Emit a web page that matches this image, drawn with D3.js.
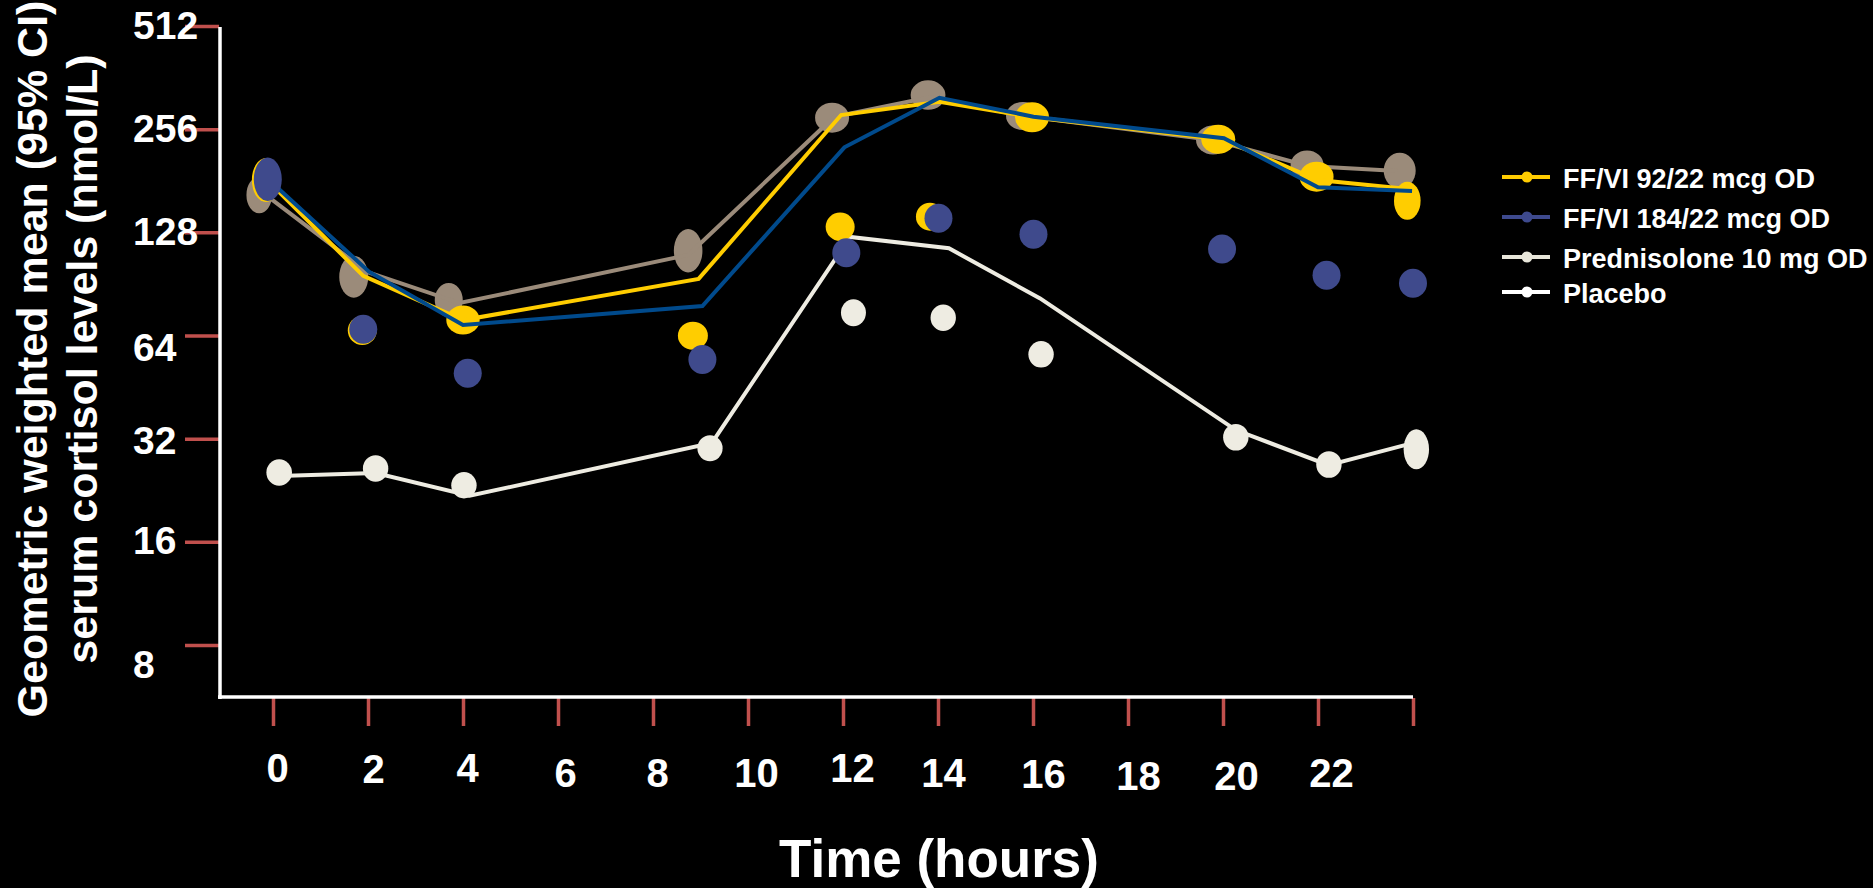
<!DOCTYPE html>
<html>
<head>
<meta charset="utf-8">
<script src="https://cdn.jsdelivr.net/npm/d3@7"></script>
<style>
  html, body { margin: 0; padding: 0; background: #000; overflow: hidden; }
  svg { display: block; }
  text { font-family: "Liberation Sans", Arial, sans-serif; font-weight: bold; fill: #fff; }
</style>
</head>
<body>
<script>
// ---------------- DATA ----------------
const seriesNames = ["FF/VI 92/22 mcg OD", "FF/VI 184/22 mcg OD", "Prednisolone 10 mg OD", "Placebo"];

const xTickValues = [0, 2, 4, 6, 8, 10, 12, 14, 16, 18, 20, 22, 24];
const xTickLabels = ["0", "2", "4", "6", "8", "10", "12", "14", "16", "18", "20", "22", ""];
const yTickValues = [512, 256, 128, 64, 32, 16, 8];
const yTickLabels = ["512", "256", "128", "64", "32", "16", "8"];

// FF/VI 92/22 (connecting line and plotted symbols, as drawn in the figure)
const ffvi92LineHours  = [-0.06, 1.90, 4.00, 8.96, 11.96, 14.03, 16.01, 19.98, 22.00, 23.79];
const ffvi92LineValues = [178.3, 95.5, 71.0, 93.6, 281.5, 307.9, 277.3, 238.9, 181.9, 171.9];
const ffvi92DotHours   = [-0.15, 1.88, 4.00, 8.84, 11.94, 13.83, 15.98, 19.90, 21.97, 23.88];
const ffvi92DotValues  = [181.9, 66.2, 71.0, 63.9, 132.9, 142.2, 277.3, 239.2, 186.0, 158.3];

// FF/VI 184/22
const ffvi184LineHours  = [-0.06, 2.02, 4.00, 9.04, 12.03, 14.03, 16.01, 20.02, 22.00, 23.98];
const ffvi184LineValues = [180.8, 98.3, 68.7, 78.0, 226.6, 316.2, 278.4, 240.8, 173.3, 169.0];
const ffvi184DotHours   = [-0.11, 1.90, 4.10, 9.04, 12.07, 14.01, 16.01, 19.98, 22.18, 24.00];
const ffvi184DotValues  = [182.8, 66.7, 49.7, 54.5, 111.6, 140.7, 126.3, 114.5, 95.9, 90.9];

// Prednisolone 10 mg
const predLineHours  = [-0.23, 1.98, 3.93, 8.74, 11.81, 13.85, 15.80, 19.79, 21.79, 23.68];
const predLineValues = [167.8, 98.1, 79.6, 109.9, 277.9, 317.7, 279.7, 238.1, 199.9, 193.4];
const predDotHours   = [-0.29, 1.70, 3.70, 8.74, 11.77, 13.79, 15.79, 19.79, 21.77, 23.72];
const predDotValues  = [164.5, 95.0, 81.2, 113.1, 276.5, 322.0, 279.7, 238.1, 201.3, 193.7];

// Placebo
const placeboLineHours  = [0.13, 2.16, 4.14, 9.24, 12.15, 14.23, 16.15, 20.27, 22.22, 23.93];
const placeboLineValues = [24.9, 25.4, 21.8, 31.1, 124.1, 115.0, 82.1, 33.9, 26.8, 30.9];
const placeboDotHours   = [0.13, 2.16, 4.02, 9.20, 12.22, 14.11, 16.17, 20.27, 22.23, 24.07];
const placeboDotValues  = [25.5, 26.2, 23.4, 30.0, 74.6, 72.1, 56.4, 32.3, 26.9, 29.8];

// ---------------- STYLE / LAYOUT ----------------
const W = 1873, H = 888;
const colors = {
  yellow: "#FFCD00", blueDot: "#3F4A8C", blueLine: "#004A8C",
  taupe: "#9B8B7A", placebo: "#EEECE2", tick: "#C0504D"
};
const legendColors = ["#FFCC00", "#3E4A8E", "#E8E6DA", "#FFFFFF"];
// marker ellipse radii [rx, ry] per symbol
const yellowShape  = [[14,22],[14.5,14.5],[16.7,14.5],[15,14],[14.5,14.3],[14,14],[17,15],[17,14.5],[17,15],[13.3,19]];
const blueShape    = [[14,21.7],[14,14.5],[14,14.5],[14,14.5],[14,14.5],[14,14.5],[14,14.5],[14,14.5],[14,14.5],[14,14.5]];
const taupeShape   = [[12.8,18.3],[14.5,21],[14,17],[14.3,21.7],[17,15],[17.4,14.7],[17,14],[17,14.5],[16.5,14.5],[16,18]];
const placeboShape = [[12.8,13.2],[12.7,13.2],[12.7,13.2],[12.6,13],[12.5,13.5],[12.7,13.2],[12.7,13.2],[12.7,13.3],[12.7,13.3],[12.7,20]];
const yLabelBaselineNudge = { 512: 12, 256: 12, 128: 12, 64: 25, 32: 15, 16: 12, 8: 32 };
// x tick label offsets from tick: [dx, baseline below axis]
const xLabelNudge = [[4,84],[5,85],[4,84],[7,89],[4,89],[8,89],[9,84],[5,89],[10,90],[10,92],[13,92],[13,89],[0,89]];

// ---------------- CHART ----------------
const svg = d3.select("body").append("svg").attr("width", W).attr("height", H)
  .style("background", "#000");
svg.append("rect").attr("width", W).attr("height", H).attr("fill", "#000");

const x = d3.scaleLinear().domain([0, 24]).range([273, 1413]);
const y = d3.scaleLog().base(2).domain([8, 512]).range([645, 26]);

const zip = (a, b) => a.map((d, i) => [d, b[i]]);
const line = d3.line().x(d => x(d[0])).y(d => y(d[1]));

// Y axis ticks + labels
const yAxisG = svg.append("g").attr("transform", "translate(219,0)")
  .call(d3.axisLeft(y).tickValues(yTickValues).tickFormat((d, i) => yTickLabels[i]).tickSize(34).tickPadding(0));
yAxisG.select(".domain").remove();
yAxisG.selectAll(".tick line").attr("stroke", colors.tick).attr("stroke-width", 3.5);
yAxisG.selectAll(".tick text")
  .attr("x", -86).attr("dy", null).attr("y", d => yLabelBaselineNudge[d])
  .attr("text-anchor", "start").attr("fill", "#fff")
  .style("font-size", "39px").style("font-weight", "bold")
  .style("font-family", '"Liberation Sans", Arial, sans-serif');

// X axis ticks + labels
const xAxisG = svg.append("g").attr("transform", "translate(0,698)")
  .call(d3.axisBottom(x).tickValues(xTickValues).tickFormat((d, i) => xTickLabels[i]).tickSize(28).tickPadding(0));
xAxisG.select(".domain").remove();
xAxisG.selectAll(".tick line").attr("stroke", colors.tick).attr("stroke-width", 3.5);
xAxisG.selectAll(".tick text")
  .attr("dy", null)
  .attr("x", (d, i) => xLabelNudge[i][0]).attr("y", (d, i) => xLabelNudge[i][1])
  .attr("fill", "#fff")
  .style("font-size", "40px").style("font-weight", "bold")
  .style("font-family", '"Liberation Sans", Arial, sans-serif');

// axis lines
svg.append("line").attr("x1", 220).attr("x2", 220).attr("y1", 27).attr("y2", 699)
  .attr("stroke", "#fff").attr("stroke-width", 3.5);
svg.append("line").attr("x1", 218).attr("x2", 1413).attr("y1", 697).attr("y2", 697)
  .attr("stroke", "#fff").attr("stroke-width", 3.5);

// helpers
function drawLine(hours, values, color, width) {
  svg.append("path").datum(zip(hours, values)).attr("d", line)
    .attr("fill", "none").attr("stroke", color).attr("stroke-width", width)
    .attr("stroke-linejoin", "miter");
}
function drawDots(hours, values, shapes, color) {
  svg.append("g").selectAll("ellipse").data(zip(hours, values)).join("ellipse")
    .attr("cx", d => x(d[0])).attr("cy", d => y(d[1]))
    .attr("rx", (d, i) => shapes[i][0]).attr("ry", (d, i) => shapes[i][1])
    .attr("fill", color);
}

// draw order (as in the figure)
drawLine(placeboLineHours, placeboLineValues, colors.placebo, 4);
drawDots(placeboDotHours, placeboDotValues, placeboShape, colors.placebo);
drawDots(predDotHours, predDotValues, taupeShape, colors.taupe);
drawLine(predLineHours, predLineValues, colors.taupe, 4);
drawDots(ffvi92DotHours, ffvi92DotValues, yellowShape, colors.yellow);
drawLine(ffvi92LineHours, ffvi92LineValues, colors.yellow, 4);
drawLine(ffvi184LineHours, ffvi184LineValues, colors.blueLine, 4);
drawDots(ffvi184DotHours, ffvi184DotValues, blueShape, colors.blueDot);

// axis titles
svg.append("text").attr("x", 939).attr("y", 877).attr("text-anchor", "middle")
  .style("font-size", "53px").text("Time (hours)");
const yTitle = svg.append("g").attr("transform", "translate(0,359) rotate(-90)");
yTitle.append("text").attr("x", 0).attr("y", 47).attr("text-anchor", "middle")
  .style("font-size", "43px").text("Geometric weighted mean (95% CI)");
yTitle.append("text").attr("x", 0).attr("y", 97).attr("text-anchor", "middle")
  .style("font-size", "43px").text("serum cortisol levels (nmol/L)");

// legend
const legendRows = [177, 217, 257, 292];
const legend = svg.append("g");
seriesNames.forEach((name, i) => {
  const g = legend.append("g").attr("transform", `translate(0,${legendRows[i]})`);
  g.append("line").attr("x1", 1502).attr("x2", 1550).attr("y1", 0).attr("y2", 0)
    .attr("stroke", legendColors[i]).attr("stroke-width", 4);
  g.append("ellipse").attr("cx", 1527).attr("cy", 0).attr("rx", 5.5).attr("ry", 5.5)
    .attr("fill", legendColors[i]);
  g.append("text").attr("x", 1563).attr("y", 11).style("font-size", "27px").text(name);
});
</script>
</body>
</html>
